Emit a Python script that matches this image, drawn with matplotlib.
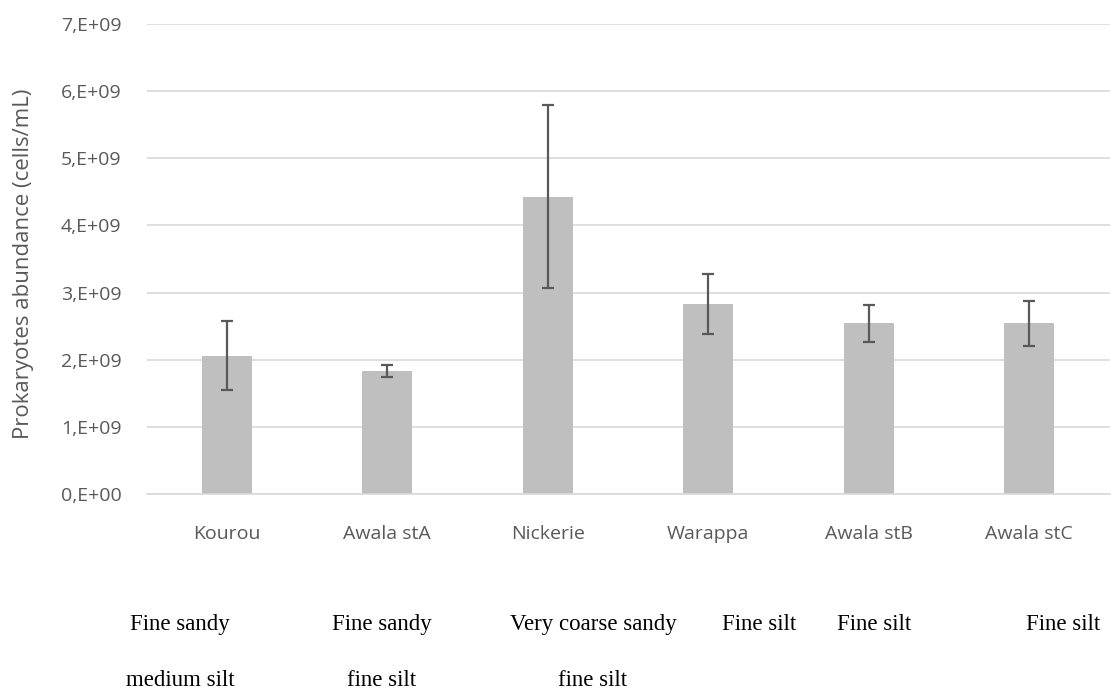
import numpy as np
import matplotlib
matplotlib.use("Agg")
import matplotlib.pyplot as plt
from matplotlib.ticker import FuncFormatter

# данные
sites = ["Kourou", "Awala stA", "Nickerie", "Warappa", "Awala stB", "Awala stC"]
abundance = [2.06e9, 1.83e9, 4.43e9, 2.83e9, 2.54e9, 2.54e9]
errors = [0.51e9, 0.09e9, 1.36e9, 0.45e9, 0.28e9, 0.33e9]

# подписи типа грунта под графиком (x-центр в пикселях)
soil_row1 = ["Fine sandy", "Fine sandy", "Very coarse sandy", "Fine silt", "Fine silt", "Fine silt"]
soil_row1_x = [180, 382, 593, 759, 874, 1063]
soil_row2 = ["medium silt", "fine silt", "fine silt"]
soil_row2_x = [180, 382, 593]

W, H = 1111, 698
fig = plt.figure(figsize=(W / 100, H / 100), dpi=100)
ax = fig.add_axes([146.5 / W, (H - 494) / H, 963 / W, 470 / H])

x = np.arange(len(sites))
ax.bar(x, abundance, width=0.31, color="#BFBFBF", zorder=2)
ax.errorbar(x, abundance, yerr=errors, fmt="none", ecolor="#595959",
            elinewidth=1.6, capsize=4.3, capthick=1.6, zorder=3)

ax.set_xlim(-0.5, len(sites) - 0.5)
ax.set_ylim(0, 7e9)
ax.set_yticks(np.arange(0, 8) * 1e9)
ax.yaxis.set_major_formatter(FuncFormatter(lambda v, p: f"{int(round(v / 1e9))},E+{'09' if v else '00'}"))
ax.set_xticks(x)
ax.set_xticklabels(sites)

ax.grid(axis="y", color="#D9D9D9", linewidth=1.2, zorder=0)
for s in ["top", "right", "left"]:
    ax.spines[s].set_visible(False)
ax.spines["bottom"].set_color("#D9D9D9")
ax.spines["bottom"].set_linewidth(1.2)

ax.tick_params(axis="both", length=0, labelsize=14, labelcolor="#595959")
ax.tick_params(axis="x", pad=22)
ax.tick_params(axis="y", pad=18)
for lbl in ax.get_xticklabels() + ax.get_yticklabels():
    lbl.set_fontfamily("Open Sans")

ax.set_ylabel("Prokaryotes abundance (cells/mL)", fontsize=16, color="#595959",
              fontfamily="Open Sans")
ax.yaxis.set_label_coords(-112 / 963, 0.49)

# общая базовая линия для каждой строки
for txt, px in zip(soil_row1, soil_row1_x):
    fig.text(px / W, (H - 630) / H, txt, ha="center", va="baseline",
             fontsize=16.5, fontfamily="Liberation Serif", color="black")
for txt, px in zip(soil_row2, soil_row2_x):
    fig.text(px / W, (H - 686) / H, txt, ha="center", va="baseline",
             fontsize=16.5, fontfamily="Liberation Serif", color="black")

fig.savefig("out.png", dpi=100)
